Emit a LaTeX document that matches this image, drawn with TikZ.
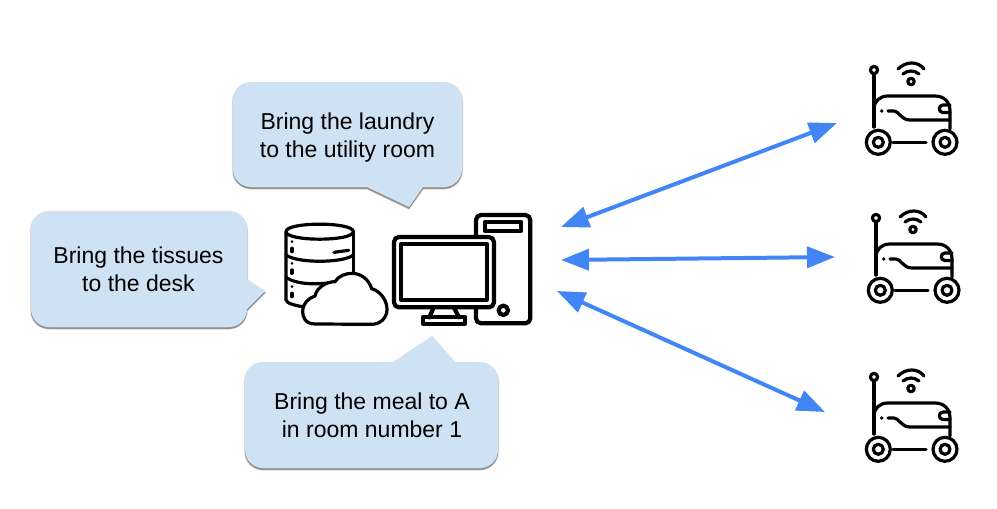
\documentclass[tikz,border=0pt]{standalone}
\usepackage{fontspec}
\setmainfont{Liberation Sans}
\usetikzlibrary{arrows.meta,shadows}
\definecolor{bubblefill}{HTML}{CFE2F3}
\definecolor{linkblue}{HTML}{4285F4}
\tikzset{
	x=1pt,
	y=-1pt,
	bubble/.style={fill=bubblefill,
		general shadow={shadow xshift=0pt,shadow yshift=-1.5pt,fill=black,opacity=.08,line width=2.5pt,draw=black,draw opacity=.08},
		general shadow={shadow xshift=0pt,shadow yshift=-1.5pt,fill=black,opacity=.12,line width=1.2pt,draw=black,draw opacity=.12},
		general shadow={shadow xshift=0pt,shadow yshift=-2pt,fill=black,opacity=.2}},
	bubbletext/.style={align=center,inner sep=0pt,font=\fontsize{23}{28}\selectfont},
	link/.style={{Triangle[length=28pt,width=21pt]}-{Triangle[length=28pt,width=21pt]},linkblue,line width=4pt},
	icon/.style={draw=black,line width=3.2pt,line cap=round,line join=round},
	pcline/.style={draw=black,line width=4.2pt,line join=round,line cap=round},
	robot/.pic={
		\draw[icon] (9,12) -- (9,64);
		\draw[icon] (9,7) circle (3.6);
		\draw[icon] (33,6) .. controls (41,-2) and (53,-2) .. (59,6);
		\draw[icon] (38,11) .. controls (43,7) and (49,7) .. (54,11);
		\draw[icon] (46,18.5) circle (3.2);
		\draw[icon] (9,64) -- (9,46) .. controls (9,38) and (15,33) .. (23,33) -- (70,33) .. controls (79,33) and (85,39) .. (85,48) -- (85,66);
		\draw[icon] (23,48) -- (29,48) .. controls (34,48) and (36,57) .. (45,57) -- (85,57);
		\fill (16.7,48) circle (1.8);
		\draw[icon] (85,42) -- (78,42) .. controls (73,42) and (73,49.5) .. (78,49.5) -- (85,49.5);
		\draw[icon] (13.3,79.3) circle (12);
		\draw[icon] (13.3,79.3) circle (5);
		\draw[icon] (80,79.3) circle (12);
		\draw[icon] (80,79.3) circle (5);
		\draw[icon] (28,79.3) -- (61,79.3);
	},
	database/.pic={
		% zoomed coordinates, three to a pixel
		\begin{scope}[x=0.3333pt,y=-0.3333pt]
			\draw[icon] (48,95) .. controls (48,65) and (250,65) .. (250,95) .. controls (250,125) and (48,125) .. (48,95);
			\draw[icon] (48,95) -- (48,300) .. controls (48,310) and (80,318) .. (110,322);
			\draw[icon] (250,95) -- (250,240);
			\draw[icon] (48,165) .. controls (80,190) and (220,190) .. (250,165);
			\draw[icon] (48,232) .. controls (80,255) and (150,255) .. (200,245);
			\draw[icon] (192,157) -- (236,151);
			\foreach \ypos in {125,190,260} {
				\fill (66,\ypos) circle (4.5);
				\draw[icon] (66,\ypos+20) -- (66,\ypos+30);
			}
			\draw[icon,fill=white] (135,372) .. controls (105,372) and (98,350) .. (98,335) .. controls (98,310) and (115,295) .. (135,288)
				.. controls (140,262) and (170,245) .. (195,245) .. controls (215,212) and (285,205) .. (305,266)
				.. controls (335,275) and (352,305) .. (351,330) .. controls (350,355) and (330,373) .. (305,373) -- cycle;
		\end{scope}
	},
	desktop/.pic={
		\begin{scope}[x=0.3333pt,y=-0.3333pt]
			\draw[pcline,rounded corners=5pt] (618,45) rectangle (781,370);
			\draw[pcline] (644,66) rectangle (754,92);
			\draw[pcline] (700,331) circle (14);
			\draw[pcline,fill=white,rounded corners=5pt] (372,111) rectangle (672,322);
			\draw[pcline] (394,131) rectangle (650,300);
			\draw[pcline] (490,325) -- (478,352);
			\draw[pcline] (553,325) -- (567,352);
			\draw[pcline] (460,351) rectangle (585,372);
		\end{scope}
	}
}
\begin{document}
\begin{tikzpicture}
	\useasboundingbox (0,0) rectangle (997,509);
	
	% Speech bubbles
	\path[bubble] (367,187) [rounded corners=18pt] -- (233,187) -- (233,82) -- (462,82) -- (462,187) -- (424,187) [sharp corners] -- (423,187) -- (409,207) -- cycle;
	\path[bubble] (247,229) .. controls (247,219) and (239,211) .. (229,211) -- (49,211) .. controls (39,211) and (31,219) .. (31,229) -- (31,309) .. controls (31,319) and (39,327) .. (49,327) -- (229,327) .. controls (239,327) and (247,319) .. (247,309) -- (265,291) -- (247,279) -- cycle;
	\path[bubble] (393,362) [rounded corners=18pt] -- (245,362) -- (245,468) -- (498,468) -- (498,362) -- (456,362) [sharp corners] -- (455,362) -- (432,336) -- cycle;
	
	\node[bubbletext] (laundry) at (347.5,138) {Bring the laundry\\to the utility room};
	\node[bubbletext] (tissues) at (138.5,269) {Bring the tissues\\to the desk};
	\node[bubbletext] (meal) at (372,415) {Bring the meal to A\\in room number 1};
	
	% Server side
	\pic (store) at (270,200) {database};
	\pic (computer) at (270,200) {desktop};
	
	% Robots
	\pic (robotA) at (865,63) {robot};
	\pic (robotB) at (867,211) {robot};
	\pic (robotC) at (865,370) {robot};
	
	% Arrow ends
	\coordinate (hostA) at (561,227);
	\coordinate (hostB) at (561,260);
	\coordinate (hostC) at (557,291);
	\coordinate (farA) at (837,123);
	\coordinate (farB) at (835,257);
	\coordinate (farC) at (825,412);
	
	\draw[link] (hostA) -- (farA);
	\draw[link] (hostB) -- (farB);
	\draw[link] (hostC) -- (farC);
	
\end{tikzpicture}
\end{document}
